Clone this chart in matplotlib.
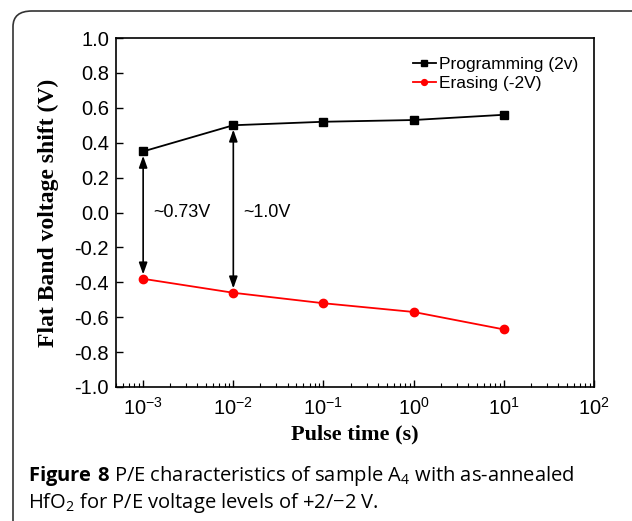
import math

import matplotlib.pyplot as plt
from matplotlib.patches import FancyBboxPatch
from matplotlib.ticker import FuncFormatter

plt.rcParams['mathtext.fontset'] = 'custom'
plt.rcParams['mathtext.rm'] = 'Liberation Sans'
plt.rcParams['mathtext.sf'] = 'Open Sans'
plt.rcParams['mathtext.bf'] = 'Open Sans:bold'

# --- datos ---
pulse_time = [1e-3, 1e-2, 1e-1, 1e0, 1e1]
programming = [0.35, 0.50, 0.52, 0.53, 0.56]
erasing = [-0.38, -0.46, -0.52, -0.57, -0.67]
gap_labels = ["~0.73V", "~1.0V"]
y_ticks = [-1.0, -0.8, -0.6, -0.4, -0.2, 0.0, 0.2, 0.4, 0.6, 0.8, 1.0]

fig = plt.figure(figsize=(6.32, 5.21), dpi=100)

# marco redondeado de la figura
frame = FancyBboxPatch((13 / 632, -0.05), 640 / 632, 1.05 - 11 / 521,
                       boxstyle="round,pad=0,rounding_size=0.03",
                       transform=fig.transFigure, fill=False,
                       edgecolor="#333333", lw=1.2, clip_on=False)
fig.patches.append(frame)

ax = fig.add_axes([116 / 632, 1 - 387 / 521, (594 - 116) / 632, (387 - 38) / 521])
ax.plot(pulse_time, programming, color="black", marker="s", ms=6, lw=1.3,
        label="Programming (2v)")
ax.plot(pulse_time, erasing, color="red", marker="o", ms=6, lw=1.3,
        label="Erasing (-2V)")
ax.set_xscale("log")
ax.set_xlim(5e-4, 1e2)
ax.set_ylim(-1.0, 1.0)
ax.set_yticks(y_ticks)
ax.yaxis.set_major_formatter(FuncFormatter(lambda v, p: f"{v:.1f}"))
ax.xaxis.set_major_formatter(FuncFormatter(lambda v, p: "10$^{%d}$" % round(math.log10(v))))

ax.tick_params(axis="both", which="both", direction="in", top=False, right=False,
               labelsize=14.5)
ax.tick_params(axis="both", which="major", length=5, width=1)
ax.tick_params(axis="x", which="minor", length=3, width=0.8)
ax.tick_params(axis="x", which="major", pad=7)
ax.tick_params(axis="y", which="major", pad=5)
for lab in ax.get_yticklabels() + ax.get_xticklabels():
    lab.set_fontfamily("Liberation Sans")
for s in ax.spines.values():
    s.set_linewidth(1.2)

# flechas de ventana de memoria
for i, lab in enumerate(gap_labels):
    x = pulse_time[i]
    ax.annotate("", xy=(x, erasing[i] + 0.025), xytext=(x, programming[i] - 0.025),
                arrowprops=dict(arrowstyle="<|-|>,head_length=0.7,head_width=0.25",
                                color="black", lw=1.2,
                                mutation_scale=10, shrinkA=0, shrinkB=0))
    ax.text(x * 1.28, 0.0, lab, fontsize=13, family="Liberation Sans",
            va="center", ha="left")

ax.set_xlabel("Pulse time (s)", family="Liberation Serif", fontweight="bold",
              fontsize=16, labelpad=4)
ax.set_ylabel("Flat Band voltage shift (V)", family="Liberation Serif",
              fontweight="bold", fontsize=17, labelpad=11)

leg = ax.legend(loc="upper right", frameon=False, handlelength=1.3,
                handletextpad=0.2, labelspacing=0.2, markerscale=0.7,
                prop={"family": "Liberation Sans", "size": 12.5},
                bbox_to_anchor=(1.0, 0.99))

fig.text(28 / 632, 1 - 476 / 521,
         r"$\mathbf{Figure\ 8}$ P/E characteristics of sample A$_{\mathsf{4}}$ with as-annealed",
         fontsize=14.5, family="Open Sans", va="center", ha="left")
fig.text(28 / 632, 1 - 503 / 521,
         "HfO$_{\\mathsf{2}}$ for P/E voltage levels of +2/\u22122 V.",
         fontsize=14.5, family="Open Sans", va="center", ha="left")

plt.savefig("out.png", dpi=100)
